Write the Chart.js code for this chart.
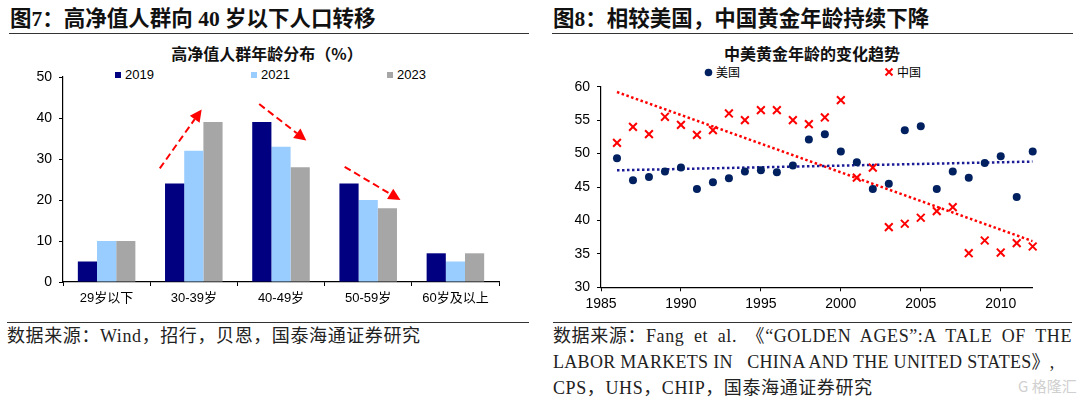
<!DOCTYPE html>
<html>
<head>
<meta charset="utf-8">
<script src="https://cdn.jsdelivr.net/npm/chart.js@4.4.1/dist/chart.umd.min.js"></script>
<style>
  html, body { margin: 0; padding: 0; background: #fff; }
  body { width: 1080px; height: 397px; position: relative; overflow: hidden;
         font-family: "Liberation Sans", "Noto Sans CJK SC", sans-serif; color: #000; }
  .t { position: absolute; white-space: nowrap; }
  .head { top: 5px; font: bold 21.5px/28px "Liberation Serif", "Noto Sans CJK SC", serif; color: #111; }
  .rule { position: absolute; height: 0; border-top: 1.5px solid #333; }
  .sub { top: 44px; font: bold 16px/18px "Noto Sans CJK SC", sans-serif; transform: translateX(-50%); color: #111; }
  .foot { font: 18px/26px "Liberation Serif", "Noto Sans CJK SC", serif; letter-spacing: 0.6px; color: #222; }
  .legend { position: absolute; display: flex; }
  .legend .item { display: flex; align-items: center; }
  .mark { display: inline-block; }
  canvas { position: absolute; }
</style>
</head>
<body>

<div class="t head" style="left:10px;">图7：高净值人群向 40 岁以下人口转移</div>
<div class="rule" style="left:9px; width:520px; top:33px;"></div>
<div class="t head" style="left:553px;">图8：相较美国，中国黄金年龄持续下降</div>
<div class="rule" style="left:552px; width:521px; top:33px;"></div>

<div class="t sub" style="left:267px;">高净值人群年龄分布（%）</div>
<div class="t sub" style="left:812px;">中美黄金年龄的变化趋势</div>

<div class="legend" id="ageLegend" style="left:115px; top:67px;"></div>
<div class="legend" id="goldLegend" style="left:704px; top:64px;"></div>

<canvas id="ageChart" width="540" height="280" style="left:0; top:40px;"></canvas>
<canvas id="goldChart" width="540" height="280" style="left:540px; top:40px;"></canvas>

<div class="rule" style="left:7px; width:522px; top:322px; border-top-width:1px;"></div>
<div class="rule" style="left:553px; width:519px; top:322px; border-top-width:1px;"></div>

<div class="t foot" style="left:7px; top:323px;">数据来源：Wind，招行，贝恩，国泰海通证券研究</div>
<div class="t foot" id="srcLine1" style="left:553px; top:323px;">数据来源：Fang et al. 《“GOLDEN AGES”:A TALE OF THE</div>
<div class="t foot" style="left:553px; top:349px; letter-spacing:0.3px;">LABOR MARKETS IN &nbsp; CHINA AND THE UNITED STATES》,</div>
<div class="t foot" style="left:553px; top:375px;">CPS，UHS，CHIP，国泰海通证券研究</div>
<div class="t" style="left:1018px; top:376px; font:15px/20px 'Noto Sans CJK SC'; color:#d0d0d0;">G 格隆汇</div>

<script>
// 图7 data
const ageGroups = ["29岁以下", "30-39岁", "40-49岁", "50-59岁", "60岁及以上"];
const seriesNames = ["2019", "2021", "2023"];
const share2019 = [5, 24, 39, 24, 7];
const share2021 = [10, 32, 33, 20, 5];
const share2023 = [10, 39, 28, 18, 7];
const shareTicks = [0, 10, 20, 30, 40, 50];
// red arrows: [from category index, from value, to index, to value]
const shiftArrows = [[0.61, 27.7, 1.09, 42.1], [1.75, 43.4, 2.29, 34.5], [2.73, 28.1, 3.37, 20.0]];

// 图8 data
const years = [1986, 1987, 1988, 1989, 1990, 1991, 1992, 1993, 1994, 1995, 1996, 1997, 1998, 1999,
               2000, 2001, 2002, 2003, 2004, 2005, 2006, 2007, 2008, 2009, 2010, 2011, 2012];
const usAge = [49.3, 46.0, 46.5, 47.3, 47.9, 44.7, 45.7, 46.3, 47.3, 47.5, 47.2, 48.2, 52.1, 52.9,
               50.3, 48.7, 44.7, 45.5, 53.5, 54.1, 44.7, 47.3, 46.4, 48.6, 49.6, 43.5, 50.3];
const cnAge = [51.6, 54.0, 52.9, 55.5, 54.3, 52.8, 53.5, 56.0, 55.0, 56.5, 56.5, 55.0, 54.4, 55.4,
               58.0, 46.4, 47.9, 39.0, 39.5, 40.4, 41.4, 42.0, 35.1, 37.0, 35.2, 36.6, 36.1];
const trendYears = [1986, 2012];
const usTrend = [47.5, 48.8];
const cnTrend = [59.2, 36.9];
const countryNames = ["美国", "中国"];
const yearTicks = [1985, 1990, 1995, 2000, 2005, 2010];
const ageTicks = [30, 35, 40, 45, 50, 55, 60];

const barColors = ["#000080", "#99ccff", "#a6a6a6"];
const usColor = "#002060";
const cnColor = "#ff0000";

// stretch first source line to the rule width, spaces only
const src1 = document.getElementById("srcLine1");
const gaps = (src1.textContent.match(/ /g) || []).length;
const spare = 519 - src1.getBoundingClientRect().width;
if (spare > 0) src1.style.wordSpacing = (spare / gaps) + "px";

// legends
const ageLegend = document.getElementById("ageLegend");
seriesNames.forEach((name, i) => {
    ageLegend.insertAdjacentHTML("beforeend",
        `<div class="item" style="width:136px;font:13px/16px 'Liberation Sans';">` +
        `<span class="mark" style="width:6px;height:6px;background:${barColors[i]};margin-right:4px;"></span>${name}</div>`);
});
const goldLegend = document.getElementById("goldLegend");
const markSvg = [
    `<svg width="9" height="9"><circle cx="4.5" cy="4.5" r="3.8" fill="${usColor}"/></svg>`,
    `<svg width="10" height="10"><path d="M1.5 1.5L8.5 8.5M8.5 1.5L1.5 8.5" stroke="${cnColor}" stroke-width="2"/></svg>`
];
countryNames.forEach((name, i) => {
    goldLegend.insertAdjacentHTML("beforeend",
        `<div class="item" style="width:180px;font:12px/16px 'Noto Sans CJK SC';">` +
        `<span class="mark" style="margin-right:3px;display:flex;">${markSvg[i]}</span>${name}</div>`);
});

const axisFont = { family: "Liberation Sans", size: 14 };
const tickGrid = { display: true, drawOnChartArea: false, drawTicks: true, tickLength: 4, color: "#000", lineWidth: 1 };
const axisBorder = { display: true, color: "#000", width: 1.2 };

// arrows drawn in data space
const arrowPlugin = {
    id: "shiftArrows",
    afterDatasetsDraw(chart) {
        const { ctx, scales: { x, y } } = chart;
        ctx.save();
        ctx.strokeStyle = "#ff0000";
        ctx.fillStyle = "#ff0000";
        ctx.lineWidth = 2;
        shiftArrows.forEach(([i0, v0, i1, v1]) => {
            const x0 = x.getPixelForValue(i0), y0 = y.getPixelForValue(v0);
            const x1 = x.getPixelForValue(i1), y1 = y.getPixelForValue(v1);
            const ang = Math.atan2(y1 - y0, x1 - x0);
            const head = 12, half = 6;
            const bx = x1 - head * Math.cos(ang), by = y1 - head * Math.sin(ang);
            ctx.setLineDash([7, 4]);
            ctx.beginPath();
            ctx.moveTo(x0, y0);
            ctx.lineTo(bx, by);
            ctx.stroke();
            ctx.setLineDash([]);
            ctx.beginPath();
            ctx.moveTo(x1, y1);
            ctx.lineTo(bx + half * Math.sin(ang), by - half * Math.cos(ang));
            ctx.lineTo(bx - half * Math.sin(ang), by + half * Math.cos(ang));
            ctx.closePath();
            ctx.fill();
        });
        ctx.restore();
    }
};

new Chart(document.getElementById("ageChart"), {
    type: "bar",
    data: {
        labels: ageGroups,
        datasets: [share2019, share2021, share2023].map((d, i) => ({
            label: seriesNames[i],
            data: d,
            backgroundColor: barColors[i],
            barPercentage: 1,
            categoryPercentage: 0.66
        }))
    },
    options: {
        responsive: false,
        animation: false,
        layout: { padding: { left: 25, right: 41, top: 37, bottom: 6 } },
        plugins: { legend: { display: false }, tooltip: { enabled: false } },
        scales: {
            x: {
                grid: { ...tickGrid, offset: true },
                border: axisBorder,
                ticks: { color: "#000", font: { family: "Liberation Sans, Noto Sans CJK SC", size: 13 }, padding: 5, maxRotation: 0 },
                afterFit: (s) => { s.height = 32; }
            },
            y: {
                min: 0, max: 50,
                grid: tickGrid,
                border: axisBorder,
                ticks: { color: "#000", font: axisFont, padding: 7 },
                afterBuildTicks: (s) => { s.ticks = shareTicks.map((v) => ({ value: v })); },
                afterFit: (s) => { s.width = 38; }
            }
        }
    },
    plugins: [arrowPlugin]
});

const toPoints = (xs, ys) => xs.map((x, i) => ({ x: x, y: ys[i] }));

new Chart(document.getElementById("goldChart"), {
    type: "scatter",
    data: {
        datasets: [
            {
                label: countryNames[0],
                data: toPoints(years, usAge),
                pointStyle: "circle",
                pointRadius: 4,
                backgroundColor: usColor,
                borderWidth: 0,
                clip: false,
                order: 1
            },
            {
                label: countryNames[1],
                data: toPoints(years, cnAge),
                pointStyle: "crossRot",
                pointRadius: 5.5,
                borderColor: cnColor,
                backgroundColor: cnColor,
                borderWidth: 2,
                clip: false,
                order: 1
            },
            {
                type: "line",
                data: toPoints(trendYears, usTrend),
                borderColor: "#1c1c96",
                borderWidth: 2.5,
                borderDash: [2.5, 2.5],
                pointRadius: 0,
                fill: false,
                order: 2
            },
            {
                type: "line",
                data: toPoints(trendYears, cnTrend),
                borderColor: cnColor,
                borderWidth: 2.5,
                borderDash: [2.5, 2.5],
                pointRadius: 0,
                fill: false,
                order: 2
            }
        ]
    },
    options: {
        responsive: false,
        animation: false,
        layout: { padding: { left: 25, right: 47.3, top: 46.7, bottom: 6.7 } },
        plugins: { legend: { display: false }, tooltip: { enabled: false } },
        scales: {
            x: {
                type: "linear",
                min: 1985, max: 2012,
                grid: tickGrid,
                border: axisBorder,
                ticks: { color: "#000", font: axisFont, padding: 4, callback: (v) => String(v) },
                afterBuildTicks: (s) => { s.ticks = yearTicks.map((v) => ({ value: v })); },
                afterFit: (s) => { s.height = 26; }
            },
            y: {
                min: 30, max: 60,
                grid: tickGrid,
                border: axisBorder,
                ticks: { color: "#000", font: axisFont, padding: 7 },
                afterBuildTicks: (s) => { s.ticks = ageTicks.map((v) => ({ value: v })); },
                afterFit: (s) => { s.width = 36; }
            }
        }
    }
});
</script>
</body>
</html>
